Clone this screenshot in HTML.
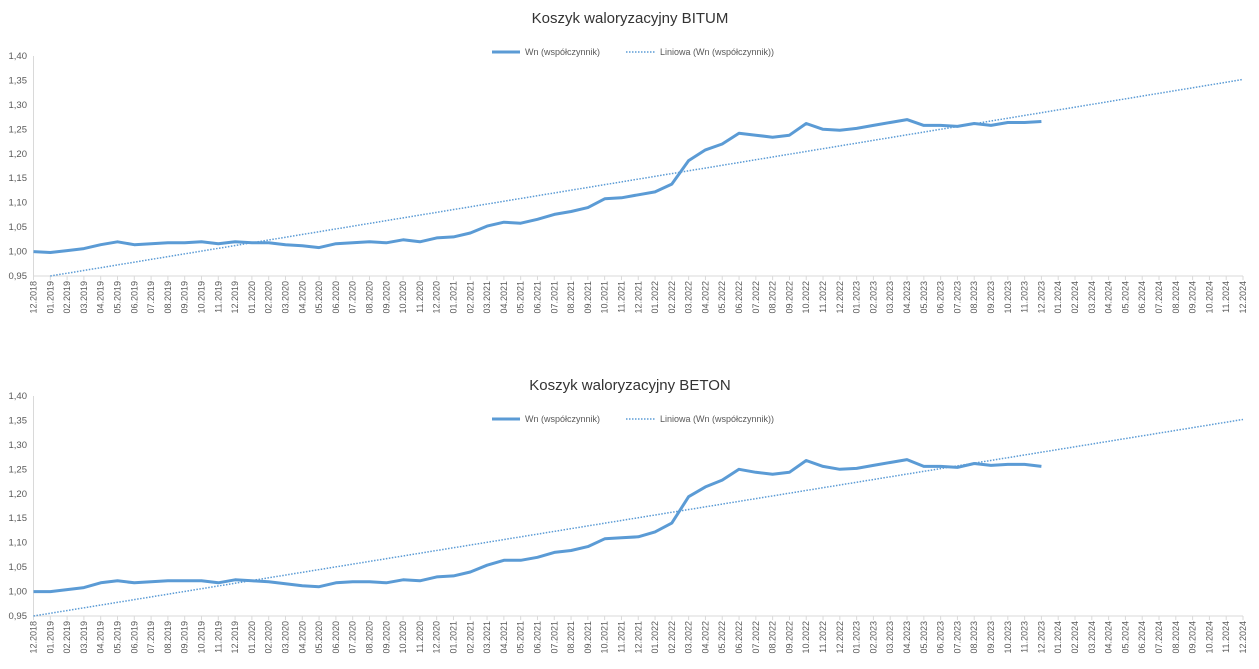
<!DOCTYPE html><html><head><meta charset="utf-8"><style>body{margin:0;background:#fff}svg{display:block;font-family:"Liberation Sans",sans-serif}</style></head><body>
<svg id="s" width="1259" height="669" xmlns="http://www.w3.org/2000/svg"></svg>
<script>
const A=[1.000,0.998,1.002,1.006,1.014,1.020,1.014,1.016,1.018,1.018,1.020,1.016,1.020,1.018,1.018,1.014,1.012,1.008,1.016,1.018,1.020,1.018,1.024,1.020,1.028,1.030,1.038,1.052,1.060,1.058,1.066,1.076,1.082,1.090,1.108,1.110,1.116,1.122,1.138,1.186,1.208,1.220,1.242,1.238,1.234,1.238,1.262,1.250,1.248,1.252,1.258,1.264,1.270,1.258,1.258,1.256,1.262,1.258,1.264,1.264,1.266];
const B=[1.000,1.000,1.004,1.008,1.018,1.022,1.018,1.020,1.022,1.022,1.022,1.018,1.024,1.022,1.020,1.016,1.012,1.010,1.018,1.020,1.020,1.018,1.024,1.022,1.030,1.032,1.040,1.054,1.064,1.064,1.070,1.080,1.084,1.092,1.108,1.110,1.112,1.122,1.140,1.194,1.214,1.228,1.250,1.244,1.240,1.244,1.268,1.256,1.250,1.252,1.258,1.264,1.270,1.256,1.256,1.254,1.262,1.258,1.260,1.260,1.256];
let h='';const x0=33.5,dx=(1243-33.5)/72;
function chart(title,ty,top,bot,data,t0){
 const Y=v=>bot-(v-0.95)/0.45*(bot-top);
 h+=`<text x="630" y="${ty}" text-anchor="middle" font-size="15" fill="#333">${title}</text>`;
 const ly=ty+29;
 h+=`<line x1="492" y1="${ly}" x2="520" y2="${ly}" stroke="#5b9bd5" stroke-width="3"/><text x="525" y="${ly+3}" font-size="9" fill="#595959">Wn (współczynnik)</text>`;
 h+=`<line x1="626" y1="${ly}" x2="655" y2="${ly}" stroke="#5b9bd5" stroke-width="1.5" stroke-dasharray="1.5,1.5"/><text x="660" y="${ly+3}" font-size="9" fill="#595959">Liniowa (Wn (współczynnik))</text>`;
 h+=`<line x1="${x0}" y1="${top}" x2="${x0}" y2="${bot}" stroke="#d9d9d9"/><line x1="${x0}" y1="${bot}" x2="1243" y2="${bot}" stroke="#d9d9d9"/>`;
 for(let i=0;i<10;i++){const v=0.95+i*0.05;h+=`<text x="27" y="${Y(v)+3}" text-anchor="end" font-size="9.5" fill="#595959">${v.toFixed(2).replace('.',',')}</text>`;}
 for(let i=0;i<=72;i++){const x=x0+i*dx;h+=`<line x1="${x}" y1="${bot}" x2="${x}" y2="${bot+4}" stroke="#d9d9d9"/>`;
  const m=(11+i)%12+1,yr=2018+Math.floor((11+i)/12);const lab=String(m).padStart(2,'0')+'.'+yr;
  h+=`<text transform="translate(${x+3},${bot+5}) rotate(-90)" text-anchor="end" font-size="9" fill="#595959">${lab}</text>`;}
 h+=`<line x1="${x0+t0*dx}" y1="${Y(0.95)}" x2="1243" y2="${Y(1.352)}" stroke="#5b9bd5" stroke-width="1.5" stroke-dasharray="1.5,1.5"/>`;
 h+=`<polyline fill="none" stroke="#5b9bd5" stroke-width="3" stroke-linejoin="round" points="${data.map((v,i)=>(x0+i*dx).toFixed(1)+','+Y(v).toFixed(1)).join(' ')}"/>`;
}
chart('Koszyk waloryzacyjny BITUM',23,56,276,A,1);
chart('Koszyk waloryzacyjny BETON',390,396,616,B,0);
document.getElementById('s').innerHTML=h;
</script></body></html>
